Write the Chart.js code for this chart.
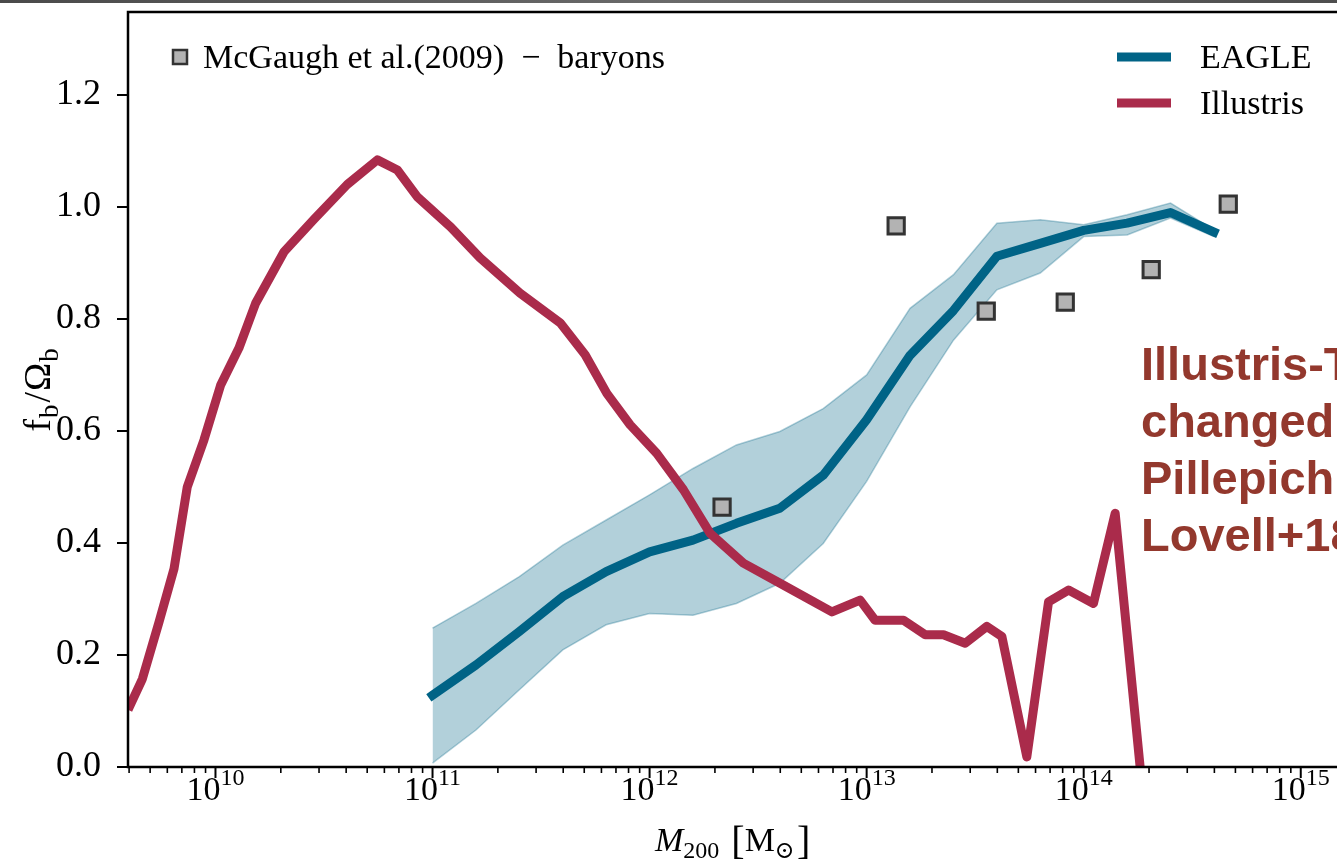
<!DOCTYPE html>
<html>
<head>
<meta charset="utf-8">
<title>Baryon fraction vs halo mass</title>
<script src="https://cdn.jsdelivr.net/npm/chart.js@4.4.1/dist/chart.umd.min.js"></script>
<style>
  html, body { margin: 0; padding: 0; background: #fff; overflow: hidden; }
  #wrap { position: relative; width: 1337px; height: 861px; }
</style>
</head>
<body>
<div id="wrap"><canvas id="chart"></canvas></div>
<script>
// log10(M200) and f_b / Omega_b
const illustrisLogM = [9.597, 9.663, 9.740, 9.809, 9.870, 9.947, 10.024, 10.108, 10.185, 10.316,
  10.454, 10.607, 10.746, 10.838, 10.930, 11.084, 11.219, 11.403, 11.588, 11.703,
  11.803, 11.910, 12.033, 12.156, 12.279, 12.432, 12.601, 12.840, 12.970, 13.039,
  13.170, 13.270, 13.354, 13.454, 13.554, 13.623, 13.738, 13.838, 13.930, 14.045,
  14.145, 14.260];
const illustrisFb = [0.102, 0.157, 0.259, 0.354, 0.500, 0.584, 0.682, 0.748, 0.828, 0.920,
  0.978, 1.040, 1.084, 1.066, 1.018, 0.964, 0.909, 0.846, 0.793, 0.736,
  0.667, 0.611, 0.560, 0.495, 0.417, 0.364, 0.328, 0.277, 0.298, 0.262,
  0.262, 0.236, 0.236, 0.221, 0.251, 0.233, 0.018, 0.295, 0.316, 0.292,
  0.453, 0.0];

const eagleLogM = [11.0, 11.2, 11.4, 11.6, 11.8, 12.0, 12.2, 12.4, 12.6, 12.8,
  13.0, 13.2, 13.4, 13.6, 13.8, 14.0, 14.2, 14.4, 14.6];
const eagleMedian = [0.128, 0.182, 0.242, 0.304, 0.349, 0.384, 0.405, 0.435, 0.462, 0.521,
  0.620, 0.735, 0.815, 0.912, 0.935, 0.958, 0.971, 0.990, 0.955];
const eagleLower = [0.007, 0.066, 0.138, 0.209, 0.254, 0.274, 0.271, 0.292, 0.328, 0.399,
  0.510, 0.643, 0.762, 0.852, 0.882, 0.947, 0.950, 0.980, 0.947];
const eagleUpper = [0.248, 0.292, 0.340, 0.396, 0.441, 0.486, 0.533, 0.575, 0.599, 0.640,
  0.700, 0.819, 0.879, 0.971, 0.977, 0.968, 0.986, 1.007, 0.959];

const mcgaughLogM = [12.334, 13.136, 13.551, 13.915, 14.311, 14.666];
const mcgaughFb = [0.464, 0.966, 0.814, 0.830, 0.888, 1.005];

const yTickValues = [0, 0.2, 0.4, 0.6, 0.8, 1.0, 1.2];
const xDecades = [9, 10, 11, 12, 13, 14, 15];
const noteLines = ['Illustris-TNG', 'changed', 'Pillepich', 'Lovell+18'];

const X_MIN_LOG = 9.597;
const X_MAX_LOG = 15.167;
const Y_MAX = 1.348;

const eagleColor = '#006386';
const illustrisColor = '#aa2b4b';
const bandColor = 'rgba(0, 99, 134, 0.3)';
const serif = '"Liberation Serif", "DejaVu Serif", serif';

function toPoints(logs, vals) {
  return logs.map((l, i) => ({ x: Math.pow(10, l), y: vals[i] }));
}

function noPadding(scale) {
  scale.paddingLeft = 0;
  scale.paddingRight = 0;
  scale.paddingTop = 0;
  scale.paddingBottom = 0;
}

const framePlugin = {
  id: 'frame',
  beforeDraw(chart) {
    const ctx = chart.ctx;
    ctx.save();
    ctx.fillStyle = '#fff';
    ctx.fillRect(0, 0, chart.width, chart.height);
    const grad = ctx.createLinearGradient(0, 0, chart.width, 0);
    grad.addColorStop(0, '#4a4a4a');
    grad.addColorStop(0.5, '#6a6a6a');
    grad.addColorStop(1, '#4e4e4e');
    ctx.fillStyle = grad;
    ctx.fillRect(0, 0, chart.width, 3);
    ctx.restore();
  },
  afterDraw(chart) {
    const ctx = chart.ctx;
    const area = chart.chartArea;
    const xs = chart.scales.x;
    ctx.save();

    // spines
    ctx.strokeStyle = '#000';
    ctx.lineWidth = 2.5;
    ctx.beginPath();
    ctx.moveTo(chart.width, area.top);
    ctx.lineTo(area.left, area.top);
    ctx.lineTo(area.left, area.bottom);
    ctx.lineTo(chart.width, area.bottom);
    ctx.stroke();

    // x ticks, major and minor
    xDecades.forEach((n) => {
      for (let k = 1; k <= 9; k++) {
        const v = k * Math.pow(10, n);
        if (v < xs.min || v > xs.max) continue;
        const px = xs.getPixelForValue(v);
        ctx.lineWidth = k === 1 ? 2 : 1.6;
        ctx.beginPath();
        ctx.moveTo(px, area.bottom);
        ctx.lineTo(px, area.bottom + (k === 1 ? 11 : 6));
        ctx.stroke();
      }
    });

    // x tick labels 10^n
    ctx.fillStyle = '#000';
    ctx.textBaseline = 'alphabetic';
    ctx.textAlign = 'left';
    xDecades.forEach((n) => {
      const v = Math.pow(10, n);
      if (v < xs.min || v > xs.max) return;
      const px = xs.getPixelForValue(v);
      ctx.font = '34px ' + serif;
      const wBase = ctx.measureText('10').width;
      ctx.font = '24px ' + serif;
      const wExp = ctx.measureText(String(n)).width;
      const x0 = px - (wBase + wExp) / 2;
      ctx.font = '34px ' + serif;
      ctx.fillText('10', x0, 800);
      ctx.font = '24px ' + serif;
      ctx.fillText(String(n), x0 + wBase, 785);
    });

    // x axis title: M_200 [M_sun]
    ctx.font = 'italic 34px ' + serif;
    let x = 655;
    const yb = 851;
    ctx.fillText('M', x, yb);
    x += ctx.measureText('M').width;
    ctx.font = '24px ' + serif;
    ctx.fillText('200', x, yb + 7);
    x += ctx.measureText('200').width + 12;
    ctx.font = '40px ' + serif;
    ctx.fillText('[', x, yb + 3);
    x += ctx.measureText('[').width;
    ctx.font = '34px ' + serif;
    ctx.fillText('M', x, yb);
    x += ctx.measureText('M').width;
    ctx.font = '24px "DejaVu Serif", serif';
    ctx.fillText('\u2299', x, yb + 7);
    x += ctx.measureText('\u2299').width + 2;
    ctx.font = '40px ' + serif;
    ctx.fillText(']', x, yb + 3);

    // y axis title: f_b / Omega_b
    ctx.save();
    ctx.translate(50, 390);
    ctx.rotate(-Math.PI / 2);
    const parts = [
      ['f', 38, 0, 1], ['b', 27, 8, 2], ['/', 38, 0, 1], ['\u03a9', 38, 0, 1], ['b', 27, 8, 0]
    ];
    let total = 0;
    parts.forEach(([t, s, dy, gap]) => { ctx.font = s + 'px ' + serif; total += ctx.measureText(t).width + gap; });
    let tx = -total / 2;
    parts.forEach(([t, s, dy, gap]) => {
      ctx.font = s + 'px ' + serif;
      ctx.fillText(t, tx, dy);
      tx += ctx.measureText(t).width + gap;
    });
    ctx.restore();

    // legend: observations (top left)
    ctx.fillStyle = '#b3b3b3';
    ctx.strokeStyle = '#333';
    ctx.lineWidth = 2.5;
    ctx.fillRect(173, 50, 14, 14);
    ctx.strokeRect(173, 50, 14, 14);
    ctx.fillStyle = '#000';
    ctx.font = '34px ' + serif;
    ctx.fillText('McGaugh et al.(2009)  \u2212  baryons', 203, 68);

    // legend: simulations (top right)
    [[eagleColor, 'EAGLE', 57], [illustrisColor, 'Illustris', 103]].forEach(([c, label, y]) => {
      ctx.strokeStyle = c;
      ctx.lineWidth = 9;
      ctx.lineCap = 'butt';
      ctx.beginPath();
      ctx.moveTo(1117, y);
      ctx.lineTo(1171, y);
      ctx.stroke();
      ctx.fillStyle = '#000';
      ctx.font = '34px ' + serif;
      ctx.fillText(label, 1200, y + 11);
    });

    // overlaid note
    ctx.fillStyle = '#93382d';
    ctx.font = 'bold 47px "Liberation Sans", Arial, sans-serif';
    noteLines.forEach((line, i) => {
      ctx.fillText(line, 1141, 380 + i * 57);
    });

    ctx.restore();
  }
};

new Chart(document.getElementById('chart'), {
  type: 'line',
  data: {
    datasets: [
      {
        type: 'scatter',
        label: 'McGaugh et al.(2009) - baryons',
        data: toPoints(mcgaughLogM, mcgaughFb),
        pointStyle: 'rect',
        pointRadius: 11.5,
        pointBackgroundColor: '#b3b3b3',
        pointBorderColor: '#333',
        pointBorderWidth: 3,
        order: 0
      },
      {
        label: 'Illustris',
        data: toPoints(illustrisLogM, illustrisFb),
        borderColor: illustrisColor,
        borderWidth: 9,
        borderJoinStyle: 'round',
        borderCapStyle: 'butt',
        pointRadius: 0,
        fill: false,
        clip: 0,
        order: 1
      },
      {
        label: 'EAGLE',
        data: toPoints(eagleLogM, eagleMedian),
        borderColor: eagleColor,
        borderWidth: 9,
        borderJoinStyle: 'round',
        borderCapStyle: 'square',
        pointRadius: 0,
        fill: false,
        order: 2
      },
      {
        label: 'EAGLE lower',
        data: toPoints(eagleLogM, eagleLower),
        borderColor: bandColor,
        borderWidth: 1.5,
        pointRadius: 0,
        fill: false,
        order: 4
      },
      {
        label: 'EAGLE upper',
        data: toPoints(eagleLogM, eagleUpper),
        borderColor: bandColor,
        backgroundColor: bandColor,
        borderWidth: 1.5,
        pointRadius: 0,
        fill: 3,
        order: 3
      }
    ]
  },
  options: {
    responsive: true,
    maintainAspectRatio: false,
    animation: false,
    layout: { autoPadding: false, padding: { top: 12, left: 0, right: 0, bottom: 0 } },
    plugins: {
      legend: { display: false },
      tooltip: { enabled: false }
    },
    scales: {
      x: {
        type: 'logarithmic',
        min: Math.pow(10, X_MIN_LOG),
        max: Math.pow(10, X_MAX_LOG),
        grid: { display: false },
        border: { display: false },
        ticks: { display: false },
        afterFit: (s) => { s.height = 94; noPadding(s); }
      },
      y: {
        min: 0,
        max: Y_MAX,
        grid: { drawOnChartArea: false, drawTicks: true, tickLength: 11, color: '#000', lineWidth: 2 },
        border: { display: false },
        ticks: {
          font: { family: serif, size: 36 },
          color: '#000',
          padding: 16,
          callback: (v) => Number(v).toFixed(1)
        },
        afterBuildTicks: (s) => { s.ticks = yTickValues.map((v) => ({ value: v })); },
        afterFit: (s) => { s.width = 128; noPadding(s); }
      }
    }
  },
  plugins: [framePlugin]
});
</script>
</body>
</html>
